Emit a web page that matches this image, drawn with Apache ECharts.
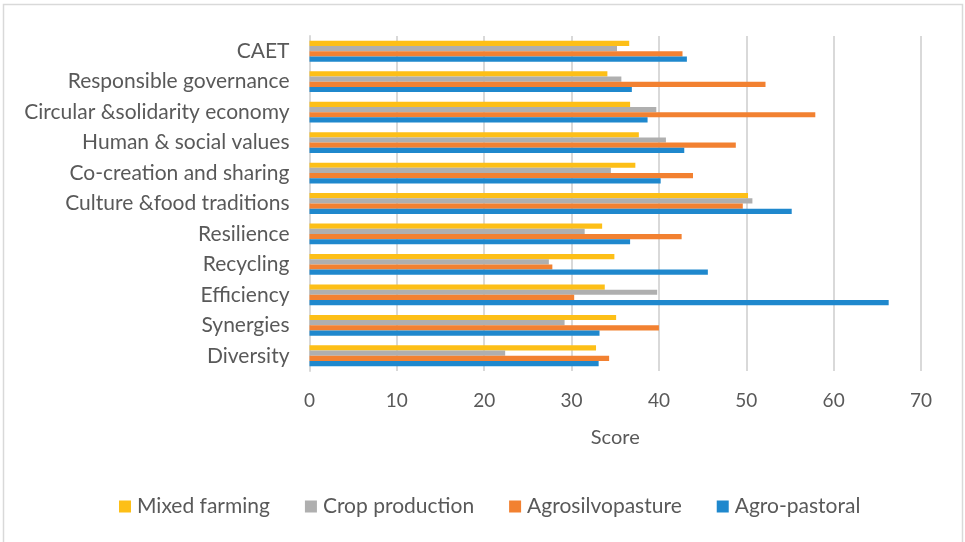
<!DOCTYPE html>
<html>
<head>
<meta charset="utf-8">
<script src="https://cdn.jsdelivr.net/npm/echarts@6/dist/echarts.min.js"></script>
<style>
  html, body { margin: 0; padding: 0; background: #ffffff; }
  #chart { width: 965px; height: 542px; }
</style>
</head>
<body>
<div id="chart"></div>
<script>
// Principles, listed bottom to top as they appear on the category axis
const categories = [
  'Diversity', 'Synergies', 'Efficiency', 'Recycling', 'Resilience',
  'Culture &food traditions', 'Co-creation and sharing', 'Human & social values',
  'Circular &solidarity economy', 'Responsible governance', 'CAET'
];

// Scores per farming system (same order as categories)
const agroPastoral     = [33.1, 33.2, 66.3, 45.6, 36.7, 55.2, 40.2, 42.9, 38.7, 36.9, 43.2];
const agrosilvopasture = [34.3, 40.0, 30.3, 27.8, 42.6, 49.6, 43.9, 48.8, 57.9, 52.2, 42.7];
const cropProduction   = [22.4, 29.2, 39.8, 27.4, 31.5, 50.7, 34.5, 40.8, 39.7, 35.7, 35.2];
const mixedFarming     = [32.8, 35.1, 33.8, 34.9, 33.5, 50.2, 37.3, 37.7, 36.7, 34.1, 36.6];

// Series order: the first one sits at the top of each category group
const seriesNames = ['Mixed farming', 'Crop production', 'Agrosilvopasture', 'Agro-pastoral'];
const xTicks = { min: 0, max: 70, interval: 10 };

const colors = {
  'Agro-pastoral': '#1F88CD',
  'Agrosilvopasture': '#F28131',
  'Crop production': '#AFAFAF',
  'Mixed farming': '#FDBF17'
};
const seriesData = {
  'Agro-pastoral': agroPastoral,
  'Agrosilvopasture': agrosilvopasture,
  'Crop production': cropProduction,
  'Mixed farming': mixedFarming
};

const font = 'Lato, "Open Sans", sans-serif';
const chart = echarts.init(document.getElementById('chart'), null, { renderer: 'canvas' });

chart.setOption({
  animation: false,
  backgroundColor: '#ffffff',
  textStyle: { fontFamily: font },
  graphic: [{
    type: 'rect',
    shape: { x: 3.5, y: 4.5, width: 959, height: 545 },
    style: { fill: 'none', stroke: '#d9d9d9', lineWidth: 1.5 },
    silent: true
  }],
  grid: { left: 309.5, right: 44, top: 36, bottom: 171, containLabel: false },
  legend: {
    data: seriesNames,
    left: 114,
    top: 491,
    icon: 'rect',
    itemWidth: 12,
    itemHeight: 12,
    itemGap: 35,
    textStyle: { fontFamily: font, fontSize: 21, color: '#595959', padding: [0, 0, 0, 1] }
  },
  xAxis: {
    type: 'value',
    min: xTicks.min,
    max: xTicks.max,
    interval: xTicks.interval,
    name: 'Score',
    nameLocation: 'middle',
    nameGap: 57,
    nameTextStyle: { fontFamily: font, fontSize: 20, color: '#595959' },
    axisLine: { show: false },
    axisTick: { show: false },
    axisLabel: { fontFamily: font, fontSize: 19, color: '#595959', margin: 20 },
    splitLine: { show: true, lineStyle: { color: '#d9d9d9', width: 2 } }
  },
  yAxis: {
    type: 'category',
    data: categories,
    axisLine: { show: true, lineStyle: { color: '#d9d9d9', width: 2 } },
    axisTick: { show: false },
    axisLabel: { fontFamily: font, fontSize: 21, color: '#595959', margin: 20 },
    splitLine: { show: false }
  },
  series: seriesNames.map(name => ({
    name: name,
    type: 'bar',
    data: seriesData[name],
    barWidth: 5.2,
    barGap: '0%',
    itemStyle: { color: colors[name] }
  }))
});
</script>
</body>
</html>
